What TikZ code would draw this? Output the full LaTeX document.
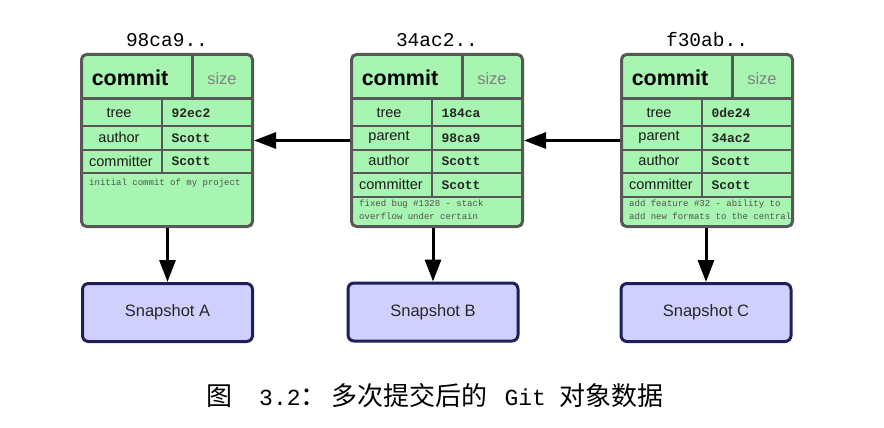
\documentclass[tikz,border=0pt]{standalone}
\usepackage{fontspec}
\setmainfont{Liberation Sans}
\newfontfamily\monofont{Liberation Mono}
\newfontfamily\cjk{Noto Sans CJK SC}
\usetikzlibrary{arrows.meta}
\definecolor{cgreen}{RGB}{168,245,178}
\definecolor{cborder}{RGB}{88,88,88}
\definecolor{snapfill}{RGB}{208,208,255}
\definecolor{snapline}{RGB}{30,30,88}
\definecolor{sizegray}{RGB}{130,130,130}
\definecolor{msggray}{RGB}{80,80,80}
\tikzset{
  commitbox/.style={draw=cborder, fill=cgreen, line width=3pt, rounded corners=5pt,
    minimum width=171pt, minimum height=172pt, inner sep=0pt},
  snapbox/.style={draw=snapline, fill=snapfill, line width=3pt, rounded corners=6pt,
    minimum width=170pt, minimum height=58pt, inner sep=0pt,
    font=\fontsize{16.5}{18}\selectfont, text=black!85},
  hashlabel/.style={font=\monofont\fontsize{19.5}{22}\selectfont},
  ctitle/.style={font=\bfseries\fontsize{21.5}{24}\selectfont},
  csize/.style={font=\fontsize{16.5}{18}\selectfont, text=sizegray},
  fieldname/.style={font=\fontsize{14.5}{16}\selectfont, text=black!90},
  fieldval/.style={anchor=west, font=\monofont\bfseries\fontsize{13}{15}\selectfont, text=black!85},
  msg/.style={anchor=west, align=left, inner sep=0pt, font=\monofont\fontsize{9}{13}\selectfont, text=msggray},
  thickline/.style={draw=cborder, line width=3pt},
  rowline/.style={draw=cborder, line width=2pt},
  arr/.style={-{Triangle[length=22pt,width=16pt]}, line width=3pt, black},
}
\begin{document}
\begin{tikzpicture}[x=1pt,y=-1pt]
\useasboundingbox (0,0) rectangle (884,428);

% ---------- commit boxes ----------
\node[commitbox] (c1) at (167,140.5) {};
\node[commitbox] (c2) at (437,140.5) {};
\node[commitbox] (c3) at (707,140.5) {};

% box 1 grid
\draw[thickline] (192,53) -- (192,99);
\draw[thickline] (80,99) -- (254,99);
\draw[rowline] (80,126) -- (254,126);
\draw[rowline] (80,150) -- (254,150);
\draw[rowline] (80,173) -- (254,173);
\draw[rowline] (162,99) -- (162,173);
% box 2 grid
\draw[thickline] (462,53) -- (462,99);
\draw[thickline] (350,99) -- (524,99);
\draw[rowline] (350,126) -- (524,126);
\draw[rowline] (350,150) -- (524,150);
\draw[rowline] (350,173) -- (524,173);
\draw[rowline] (350,197) -- (524,197);
\draw[rowline] (432,99) -- (432,197);
% box 3 grid
\draw[thickline] (732,53) -- (732,99);
\draw[thickline] (620,99) -- (794,99);
\draw[rowline] (620,126) -- (794,126);
\draw[rowline] (620,150) -- (794,150);
\draw[rowline] (620,173) -- (794,173);
\draw[rowline] (620,197) -- (794,197);
\draw[rowline] (702,99) -- (702,197);

% hashes
\node[hashlabel] (h1) at (167,40) {98ca9..};
\node[hashlabel] (h2) at (437,40) {34ac2..};
\node[hashlabel] (h3) at (707,40) {f30ab..};

% box 1 texts
\node[ctitle] (t1) at (130,78) {commit};
\node[csize] (z1) at (222,79) {size};
\node[fieldname] (f1a) at (119,112.5) {tree};
\node[fieldname] (f1b) at (119,137) {author};
\node[fieldname] (f1c) at (121,161) {committer};
\node[fieldval] (v1a) at (168,113) {92ec2};
\node[fieldval] (v1b) at (168,138) {Scott};
\node[fieldval] (v1c) at (168,161.5) {Scott};
\node[msg] (m1) at (89,183) {initial commit of my project};

% box 2 texts
\node[ctitle] (t2) at (400,78) {commit};
\node[csize] (z2) at (492,79) {size};
\node[fieldname] (f2a) at (389,112.5) {tree};
\node[fieldname] (f2b) at (389,137) {parent};
\node[fieldname] (f2c) at (389,160) {author};
\node[fieldname] (f2d) at (391,184.5) {committer};
\node[fieldval] (v2a) at (438,113) {184ca};
\node[fieldval] (v2b) at (438,138) {98ca9};
\node[fieldval] (v2c) at (438,161.5) {Scott};
\node[fieldval] (v2d) at (438,185) {Scott};
\node[msg] (m2) at (359,209.5) {fixed bug \#1328 - stack\\overflow under certain};

% box 3 texts
\node[ctitle] (t3) at (670,78) {commit};
\node[csize] (z3) at (762,79) {size};
\node[fieldname] (f3a) at (659,112.5) {tree};
\node[fieldname] (f3b) at (659,137) {parent};
\node[fieldname] (f3c) at (659,160) {author};
\node[fieldname] (f3d) at (661,184.5) {committer};
\node[fieldval] (v3a) at (708,113) {0de24};
\node[fieldval] (v3b) at (708,138) {34ac2};
\node[fieldval] (v3c) at (708,161.5) {Scott};
\node[fieldval] (v3d) at (708,185) {Scott};
\node[msg] (m3) at (629,209.5) {add feature \#32 - ability to\\add new formats to the central};

% ---------- snapshots ----------
\node[snapbox] (s1) at (167.5,312.5) {Snapshot A};
\node[snapbox] (s2) at (433,312) {Snapshot B};
\node[snapbox] (s3) at (706,312.5) {Snapshot C};

% ---------- arrows ----------
\draw[arr] (c2.west) -- (c1.east);
\draw[arr] (c3.west) -- (c2.east);
\draw[arr] (s1.north |- c1.south) -- (s1.north);
\draw[arr] (s2.north |- c2.south) -- (s2.north);
\draw[arr] (s3.north |- c3.south) -- (s3.north);

% ---------- caption ----------
\node[anchor=base west, inner sep=0pt] (cap) at (206,405)
  {\cjk\fontsize{26}{28}\selectfont 图\hspace{27pt}{\monofont\fontsize{23}{26}\selectfont 3.2}：\hspace{5pt}多次提交后的\hspace{17pt}{\monofont\fontsize{23}{26}\selectfont Git}\hspace{13pt}对象数据};
\end{tikzpicture}
\end{document}
